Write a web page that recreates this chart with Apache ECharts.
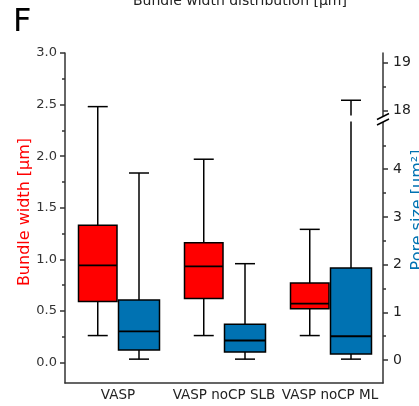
<!DOCTYPE html>
<html>
<head>
<meta charset="utf-8">
<script src="https://cdn.jsdelivr.net/npm/echarts@6/dist/echarts.min.js"></script>
<style>
  html, body { margin: 0; padding: 0; background: #fff; }
  #chart { width: 419px; height: 406px; }
</style>
</head>
<body>
<div id="chart"></div>
<script>
// Sample groups
const categories = ['VASP', 'VASP noCP SLB', 'VASP noCP ML'];

// Five-number summaries: [lower whisker, Q1, median, Q3, upper whisker]
const bundleWidth = [
  [0.26, 0.59, 0.94, 1.33, 2.48],
  [0.26, 0.62, 0.93, 1.16, 1.97],
  [0.26, 0.52, 0.57, 0.77, 1.29]
];
const poreSize = [
  [0.02, 0.21, 0.60, 1.26, 3.92],
  [0.02, 0.17, 0.41, 0.75, 2.02],
  [0.02, 0.13, 0.50, 1.93, 18.21]
];

// Axis ticks
const widthTicks = [0, 0.5, 1, 1.5, 2, 2.5, 3];
const widthMinorTicks = [0.25, 0.75, 1.25, 1.75, 2.25, 2.75];
const poreTicks = [0, 1, 2, 3, 4, 18, 19];
const poreMinorTicks = [0.5, 1.5, 2.5, 3.5, 4.5, 18.5];
const poreBreak = { start: 5, end: 17.89, gap: '1.8%' };
const poreMin = -0.48;
const poreMax = 19.2;

const FONT = 'DejaVu Sans';
const RED = '#FF0000';
const BLUE = '#0072B2';
const AXIS = '#333';

const chart = echarts.init(document.getElementById('chart'), null, { renderer: 'canvas' });

// Draws one box-and-whisker per data row, placed left (side -1) or right (side 1) of the category centre.
function boxItem(side, fill, withBreak) {
  return function (params, api) {
    const cat = api.value(0);
    const c = api.coord([cat, 0])[0];
    const x0 = side < 0 ? c - 39.5 : c + 0.5;
    const x1 = side < 0 ? c - 1 : c + 41.5;
    const xm = (x0 + x1) / 2;
    const py = (v) => api.coord([cat, v])[1];
    const lo = py(api.value(1)), q1 = py(api.value(2)), med = py(api.value(3));
    const q3 = py(api.value(4)), hi = py(api.value(5));
    const ln = { stroke: '#000', lineWidth: 1.5 };
    const children = [];
    // upper whisker, split where it crosses the axis break
    if (withBreak && api.value(5) > poreBreak.end) {
      const yb0 = py(poreBreak.start);
      const yb1 = py(poreBreak.end);
      children.push({ type: 'line', shape: { x1: xm, y1: q3, x2: xm, y2: yb0 }, style: ln });
      children.push({ type: 'line', shape: { x1: xm, y1: yb1, x2: xm, y2: hi }, style: ln });
    } else {
      children.push({ type: 'line', shape: { x1: xm, y1: q3, x2: xm, y2: hi }, style: ln });
    }
    children.push({ type: 'line', shape: { x1: xm, y1: q1, x2: xm, y2: lo }, style: ln });
    children.push({ type: 'line', shape: { x1: xm - 10, y1: hi, x2: xm + 10, y2: hi }, style: ln });
    children.push({ type: 'line', shape: { x1: xm - 10, y1: lo, x2: xm + 10, y2: lo }, style: ln });
    children.push({
      type: 'rect',
      shape: { x: x0, y: q3, width: x1 - x0, height: q1 - q3 },
      style: { fill: fill, stroke: '#000', lineWidth: 1.5 }
    });
    children.push({ type: 'line', shape: { x1: x0, y1: med, x2: x1, y2: med }, style: { stroke: '#000', lineWidth: 1.8 } });
    return { type: 'group', children: children };
  };
}

const boxData = (rows) => rows.map((r, i) => [i].concat(r));

const option = {
  animation: false,
  backgroundColor: '#fff',
  textStyle: { fontFamily: FONT },
  title: {
    text: 'Bundle width distribution [µm]',
    left: 128,
    top: -11,
    textStyle: { fontFamily: FONT, fontSize: 14, fontWeight: 'normal', color: '#222' }
  },
  graphic: [{
    type: 'text',
    left: 13,
    top: 7,
    style: { text: 'F', font: '32px "DejaVu Sans"', fill: '#000' }
  }],
  grid: { left: 65, right: 36, top: 53, bottom: 23, containLabel: false, outerBoundsMode: 'none' },
  xAxis: {
    type: 'category',
    data: categories,
    boundaryGap: true,
    axisLine: { onZero: false, lineStyle: { color: AXIS, width: 1.5 } },
    axisTick: { alignWithLabel: true, length: 4, lineStyle: { color: AXIS, width: 1.5 } },
    axisLabel: { interval: 0, margin: 5, fontFamily: FONT, fontSize: 13.5, color: '#222' },
    splitLine: { show: false }
  },
  yAxis: [
    {
      type: 'value', position: 'left', min: -0.2, max: 3.0,
      name: 'Bundle width [µm]', nameLocation: 'middle', nameGap: 32, nameMoveOverlap: false,
      nameTextStyle: { color: RED, fontFamily: FONT, fontSize: 16, padding: [0, 0, 0, 12] },
      axisLine: { show: true, onZero: false, lineStyle: { color: AXIS, width: 1.5 } },
      axisTick: { show: true, length: 5, customValues: widthTicks, lineStyle: { color: AXIS, width: 1.5 } },
      axisLabel: { customValues: widthTicks, margin: 8, fontFamily: FONT, fontSize: 13, color: '#333',
        formatter: (v) => v.toFixed(1) },
      splitLine: { show: false }
    },
    {
      type: 'value', position: 'right', min: poreMin, max: poreMax,
      breaks: [poreBreak],
      breakArea: { show: false },
      name: 'Pore size [µm²]', nameLocation: 'middle', nameGap: 27, nameMoveOverlap: false,
      nameTextStyle: { color: BLUE, fontFamily: FONT, fontSize: 16, padding: [0, 0, 0, 16] },
      axisLine: { show: true, onZero: false, lineStyle: { color: AXIS, width: 1.5 } },
      axisTick: { show: true, length: 5, customValues: poreTicks, lineStyle: { color: AXIS, width: 1.5 } },
      axisLabel: { customValues: poreTicks, margin: 10, fontFamily: FONT, fontSize: 14, color: '#222' },
      splitLine: { show: false }
    },
    {
      // minor ticks, left
      type: 'value', position: 'left', min: -0.2, max: 3.0,
      axisLine: { show: false, onZero: false },
      axisTick: { show: true, length: 3, customValues: widthMinorTicks, lineStyle: { color: AXIS, width: 1.5 } },
      axisLabel: { show: false },
      splitLine: { show: false }
    },
    {
      // minor ticks, right
      type: 'value', position: 'right', min: poreMin, max: poreMax,
      breaks: [poreBreak],
      breakArea: { show: false },
      axisLine: { show: false, onZero: false },
      axisTick: { show: true, length: 3, customValues: poreMinorTicks, lineStyle: { color: AXIS, width: 1.5 } },
      axisLabel: { show: false },
      splitLine: { show: false }
    }
  ],
  series: [
    {
      name: 'Bundle width', type: 'custom', yAxisIndex: 0,
      encode: { x: 0, y: [1, 2, 3, 4, 5] },
      data: boxData(bundleWidth),
      renderItem: boxItem(-1, RED, false),
      z: 3
    },
    {
      name: 'Pore size', type: 'custom', yAxisIndex: 1,
      encode: { x: 0, y: [1, 2, 3, 4, 5] },
      data: boxData(poreSize),
      renderItem: boxItem(1, BLUE, true),
      z: 3
    },
    {
      // break marks on the pore-size axis
      name: 'axis break', type: 'custom', yAxisIndex: 1,
      data: [[0, poreBreak.start]],
      renderItem: function (params, api) {
        const cs = params.coordSys;
        const xr = cs.x + cs.width;
        const yLow = api.coord([0, poreBreak.start])[1] + 0.5;
        const yHigh = api.coord([0, poreBreak.end])[1] + 1;
        const st = { stroke: '#000', lineWidth: 1.5 };
        return {
          type: 'group',
          children: [
            { type: 'polygon', shape: { points: [[xr - 6, yLow + 3], [xr + 6, yLow - 3], [xr + 6, yHigh - 3], [xr - 6, yHigh + 3]] },
              style: { fill: '#fff' } },
            { type: 'line', shape: { x1: xr - 6, y1: yLow + 3, x2: xr + 6, y2: yLow - 3 }, style: st },
            { type: 'line', shape: { x1: xr - 6, y1: yHigh + 3, x2: xr + 6, y2: yHigh - 3 }, style: st }
          ]
        };
      },
      z: 5,
      silent: true
    }
  ]
};

chart.setOption(option);
</script>
</body>
</html>
